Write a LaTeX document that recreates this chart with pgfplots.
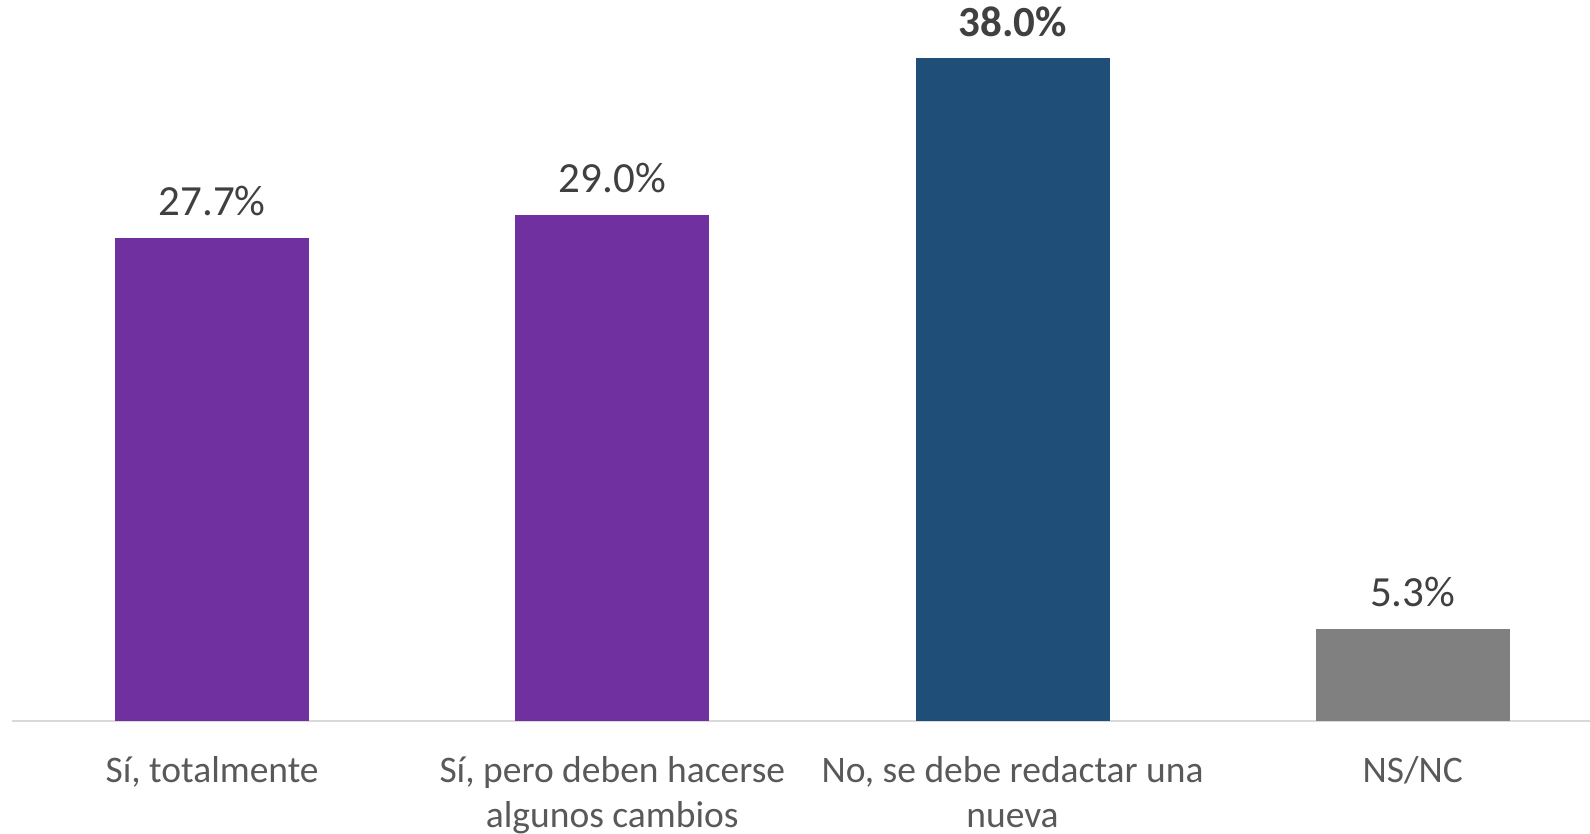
\documentclass[border=0pt]{standalone}
\usepackage{pgfplots}
\pgfplotsset{compat=1.18}
\usepackage{fontspec}
\setmainfont{Carlito}
\definecolor{cpurple}{HTML}{7030A0}
\definecolor{cblue}{HTML}{1F4E79}
\definecolor{cgray}{HTML}{808080}
\definecolor{clabel}{HTML}{404040}
\definecolor{ctick}{HTML}{595959}
\definecolor{caxis}{HTML}{D9D9D9}
\begin{document}
\begin{tikzpicture}
\begin{axis}[
  at={(6pt,56.5pt)}, anchor=south west,
  scale only axis, width=789pt, height=360.5pt,
  xmin=-0.5, xmax=3.443, ymin=0, ymax=41.32,
  ybar, bar width=97pt, bar shift=0pt,
  axis x line*=bottom, axis y line=none,
  x axis line style={draw=caxis, line width=1pt},
  xtick={0,1,2,3},
  xticklabels={{\strut Sí, totalmente},{\strut Sí, pero deben hacerse\\algunos cambios},{\strut No, se debe redactar una\\nueva},{\strut NS/NC}},
  major tick length=0pt,
  xticklabel style={font=\fontsize{18.75}{22.3}\selectfont, text=ctick, align=center, anchor=north, inner sep=0pt, yshift=-14.9pt},
  /pgf/number format/assume math mode=true,
  nodes near coords={\pgfmathprintnumber[fixed,fixed zerofill,precision=1]{\pgfplotspointmeta}\%},
  nodes near coords style={font=\fontsize{21.5}{25}\selectfont, text=clabel, anchor=base, yshift=11pt, inner sep=0pt},
  clip=false,
]
\addplot[fill=cpurple, draw=none] coordinates {(0,27.7)};
\addplot[fill=cpurple, draw=none] coordinates {(1,29.0)};
\addplot[fill=cblue, draw=none, nodes near coords style={font=\fontsize{21.5}{25}\selectfont\bfseries, yshift=-0.5pt}] coordinates {(2,38.0)};
\addplot[fill=cgray, draw=none] coordinates {(3,5.3)};
\end{axis}
\pgfresetboundingbox
\path[use as bounding box] (0,0) rectangle (795pt,417pt);
\end{tikzpicture}
\end{document}
